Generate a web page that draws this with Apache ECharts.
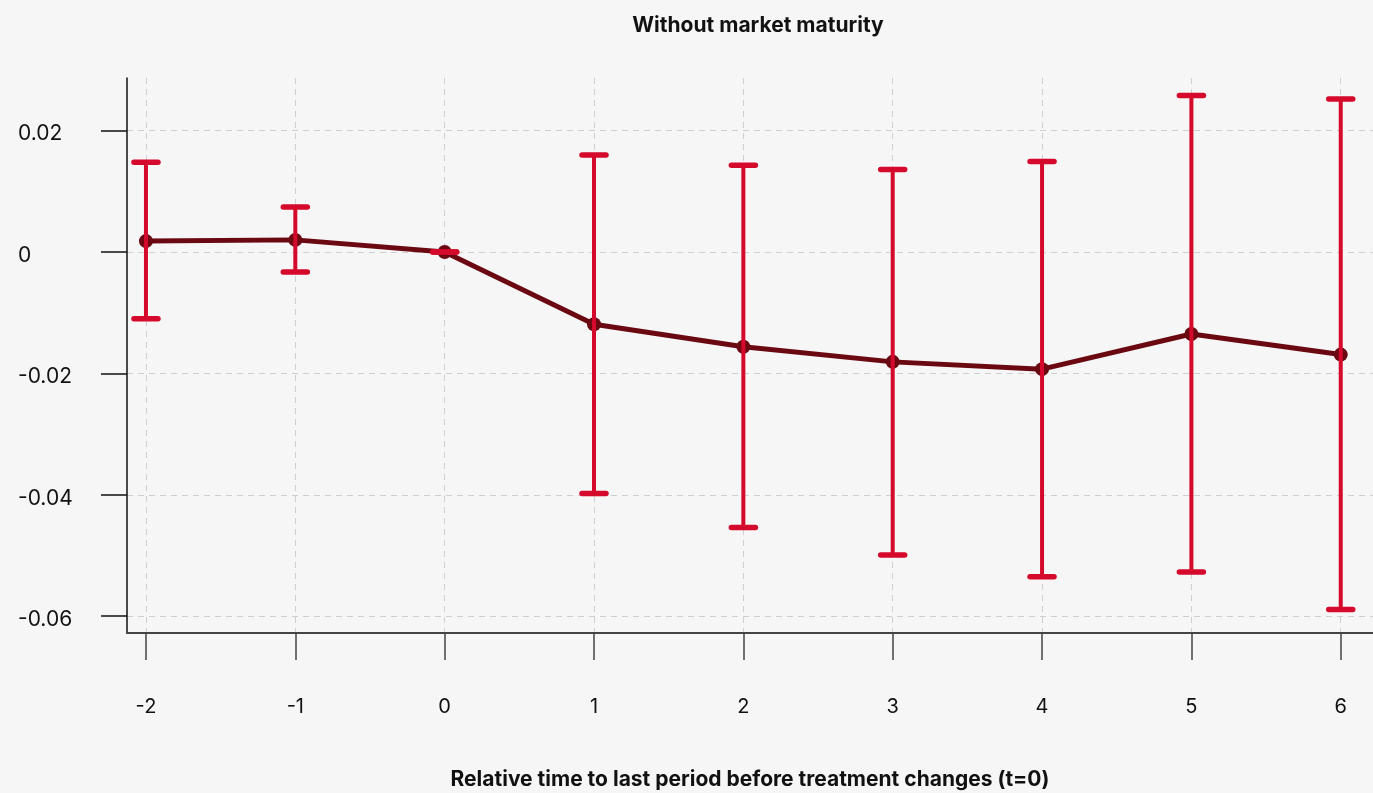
<!DOCTYPE html>
<html>
<head>
<meta charset="utf-8">
<script src="https://cdn.jsdelivr.net/npm/echarts@6/dist/echarts.min.js"></script>
<style>
html,body{margin:0;padding:0;background:#f6f6f6;}
#chart{width:1373px;height:793px;}
</style>
</head>
<body>
<div id="chart"></div>
<script>
// Data
const periods = [-2, -1, 0, 1, 2, 3, 4, 5, 6];
const estimates = [0.0018, 0.0020, 0.0, -0.0119, -0.0156, -0.0181, -0.0193, -0.0135, -0.0169];
const ciLower = [-0.0110, -0.0033, 0.0, -0.0398, -0.0454, -0.0499, -0.0535, -0.0527, -0.0589];
const ciUpper = [0.0148, 0.0074, 0.0, 0.0160, 0.0143, 0.0136, 0.0149, 0.0258, 0.0252];
const yTicks = [-0.06, -0.04, -0.02, 0, 0.02];
const xTicks = [-2, -1, 0, 1, 2, 3, 4, 5, 6];

const FONT = 'Inter';
const RED = '#d5092b';
const DARK = '#6b0912';

const chart = echarts.init(document.getElementById('chart'));

const lineData = periods.map((p, i) => [p, estimates[i]]);
const ciData = periods.map((p, i) => [p, ciLower[i], ciUpper[i]]);

const option = {
  backgroundColor: '#f6f6f6',
  animation: false,
  title: {
    text: 'Without market maturity',
    left: 753,
    top: 10,
    textAlign: 'center',
    textStyle: {fontFamily: FONT, fontWeight: 'bold', fontSize: 21, color: '#111'}
  },
  grid: {left: 127, right: 0, top: 78, bottom: 160, containLabel: false, outerBoundsMode: 'none'},
  xAxis: {
    type: 'value',
    min: -2.127,
    max: 6.216,
    name: 'Relative time to last period before treatment changes (t=0)',
    nameLocation: 'middle',
    nameGap: 136,
    nameTextStyle: {fontFamily: FONT, fontWeight: 'bold', fontSize: 21, color: '#111'},
    axisLine: {show: true, onZero: false, lineStyle: {color: '#444', width: 2}},
    axisTick: {show: true, length: 27, lineStyle: {color: '#444', width: 1.5}, customValues: xTicks},
    axisLabel: {
      customValues: xTicks,
      margin: 64,
      fontFamily: FONT, fontSize: 20, color: '#111',
      formatter: v => String(v)
    },
    splitLine: {show: true, lineStyle: {color: '#cfcfcf', type: [6, 5], width: 1}}
  },
  yAxis: {
    type: 'value',
    min: -0.06277,
    max: 0.02867,
    axisLine: {show: true, onZero: false, lineStyle: {color: '#111', width: 1.5}},
    axisTick: {show: true, length: 26, lineStyle: {color: '#111', width: 1.5}, customValues: yTicks},
    axisLabel: {
      customValues: yTicks,
      align: 'left',
      verticalAlign: 'top',
      lineHeight: 7,
      margin: 109,
      fontFamily: FONT, fontSize: 21, color: '#111',
      formatter: v => (v === 0 ? '0' : String(Math.round(v * 100) / 100))
    },
    splitLine: {show: true, lineStyle: {color: '#cfcfcf', type: [6, 5], width: 1}}
  },
  series: [
    {
      type: 'line',
      data: lineData,
      z: 2,
      symbol: 'circle',
      symbolSize: 14,
      lineStyle: {color: DARK, width: 5},
      itemStyle: {color: DARK},
      emphasis: {disabled: true}
    },
    {
      type: 'custom',
      data: ciData,
      z: 3,
      renderItem: function (params, api) {
        const x = api.value(0);
        const lo = api.coord([x, api.value(1)]);
        const hi = api.coord([x, api.value(2)]);
        const hw = 12;
        return {
          type: 'group',
          children: [
            {type: 'line', shape: {x1: lo[0], y1: lo[1], x2: hi[0], y2: hi[1]},
             style: {stroke: RED, lineWidth: 4}},
            {type: 'line', shape: {x1: hi[0] - hw, y1: hi[1], x2: hi[0] + hw, y2: hi[1]},
             style: {stroke: RED, lineWidth: 5.5, lineCap: 'round'}},
            {type: 'line', shape: {x1: lo[0] - hw, y1: lo[1], x2: lo[0] + hw, y2: lo[1]},
             style: {stroke: RED, lineWidth: 5.5, lineCap: 'round'}}
          ]
        };
      }
    }
  ]
};
chart.setOption(option);
</script>
</body>
</html>
